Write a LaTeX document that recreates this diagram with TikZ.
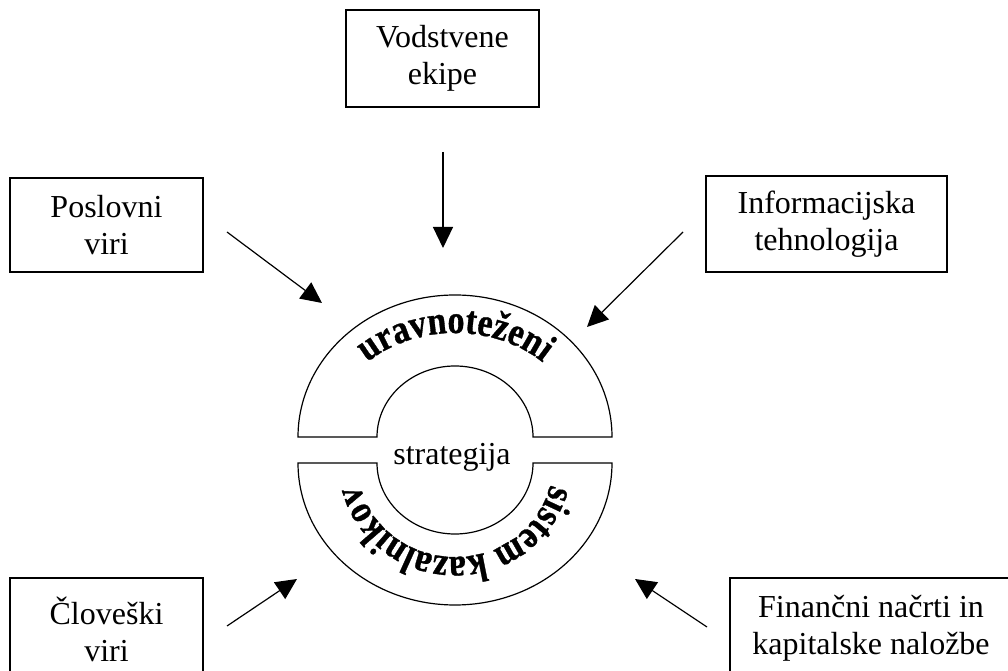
\documentclass[tikz,border=0pt]{standalone}
\usepackage{fontspec}
\setmainfont{Liberation Serif}
\newfontfamily\ringfam[FakeStretch=0.85, FakeBold=0.8]{Liberation Serif}
\usetikzlibrary{arrows.meta,decorations.text}
\newcommand\ringfont{\ringfam\bfseries\fontsize{40}{40}\selectfont}

\begin{document}
\begin{tikzpicture}[x=1pt, y=1pt, line width=1.2pt,
	every node/.style={font=\fontsize{32}{37}\selectfont, align=center, inner sep=0pt},
	box/.style={draw, minimum width=193pt, minimum height=96pt},
	arr/.style={-{Triangle[length=21pt,width=20pt]}}]
		\useasboundingbox (0,0) rectangle (1008,671);

		\path (442.5,612.5) node[box, minimum height=97pt] (b0) {Vodstvene\\ekipe}
		(106.5,446) node[box, minimum height=94pt] (b1) {Poslovni\\viri}
		(826.5,447) node[box, minimum width=241pt] (b2) {Informacijska\\tehnologija}
		(106.5,42) node[box, minimum height=102pt] (b3) {Človeški\\viri}
		(871,43) node[box, minimum width=282pt, minimum height=100pt] (b4) {Finančni načrti in\\kapitalske naložbe}
		(452,206) node[anchor=base] (s) {strategija};

		% ring
		\draw (298,234) arc[start angle=180, end angle=0, x radius=157pt, y radius=142pt]
			-- (533,234) arc[start angle=0, end angle=180, x radius=78pt, y radius=71pt] -- cycle;
		\draw (298,208) arc[start angle=180, end angle=360, x radius=157pt, y radius=142pt]
			-- (533,208) arc[start angle=360, end angle=180, x radius=78pt, y radius=71pt] -- cycle;

		\path[decorate, decoration={text along path, text align=center,
			text={|\ringfont|uravnoteženi}}]
			(455,234) ++(170:126 and 104) arc[start angle=170, end angle=10, x radius=126pt, y radius=104pt];
		\path[decorate, decoration={text along path, text align=center,
			text={|\ringfont|sistem kazalnikov}}]
			(455,208) ++(-2:98 and 94) arc[start angle=-2, end angle=-178, x radius=98pt, y radius=94pt];

		\path (443,519) coordinate (a0) (443,423) coordinate (t0)
		(227,439) coordinate (a1) (322,368) coordinate (t1)
		(683,439) coordinate (a2) (587,344) coordinate (t2)
		(227,45) coordinate (a3) (297,92) coordinate (t3)
		(707,44) coordinate (a4) (635,92) coordinate (t4);

		\draw[arr] (a0) -- (t0);
		\draw[arr] (a1) -- (t1);
		\draw[arr] (a2) -- (t2);
		\draw[arr] (a3) -- (t3);
		\draw[arr] (a4) -- (t4);
	\end{tikzpicture}
\end{document}
